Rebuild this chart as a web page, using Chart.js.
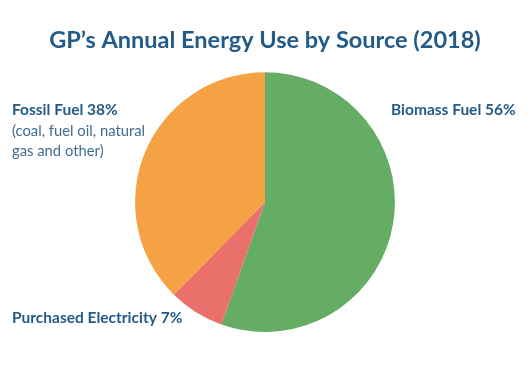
<!DOCTYPE html>
<html>
<head>
<meta charset="utf-8">
<script src="https://cdn.jsdelivr.net/npm/chart.js@4"></script>
<style>
html,body{margin:0;padding:0;background:#fff;}
#wrap{width:530px;height:377px;position:relative;}
</style>
</head>
<body>
<div id="wrap"><canvas id="c" width="530" height="377"></canvas></div>
<script>
const categories = ["Biomass Fuel", "Purchased Electricity", "Fossil Fuel"];
const values = [56, 7, 38];
const colors = ["#65ad65", "#e9706b", "#f5a244"];
const titleText = "GP\u2019s Annual Energy Use by Source (2018)";

const labelPlugin = {
  id: 'sliceLabels',
  afterDraw(chart) {
    const ctx = chart.ctx;
    ctx.save();
    ctx.fillStyle = '#235b88';
    ctx.textBaseline = 'alphabetic';
    ctx.textAlign = 'left';
    ctx.font = 'bold 15.5px Lato';
    ctx.fillText(categories[2] + ' ' + values[2] + '%', 12, 115);
    ctx.fillText(categories[0] + ' ' + values[0] + '%', 391, 115);
    ctx.fillText(categories[1] + ' ' + values[1] + '%', 12, 323);
    ctx.fillStyle = '#3f6d92';
    ctx.font = '14.8px Lato';
    ctx.fillText('(coal, fuel oil, natural', 12, 136);
    ctx.fillText('gas and other)', 12, 156);
    ctx.restore();
  }
};

new Chart(document.getElementById('c'), {
  type: 'pie',
  data: {
    labels: categories,
    datasets: [{
      data: values,
      backgroundColor: colors,
      borderWidth: 0
    }]
  },
  options: {
    responsive: false,
    animation: false,
    layout: { padding: { top: 0, bottom: 45, left: 0, right: 0 } },
    plugins: {
      legend: { display: false },
      tooltip: { enabled: false },
      title: {
        display: true,
        text: titleText,
        color: '#235b88',
        font: { family: 'Lato', size: 23.5, weight: 'bold' },
        padding: { top: 26, bottom: 18 }
      }
    }
  },
  plugins: [labelPlugin]
});
</script>
</body>
</html>
